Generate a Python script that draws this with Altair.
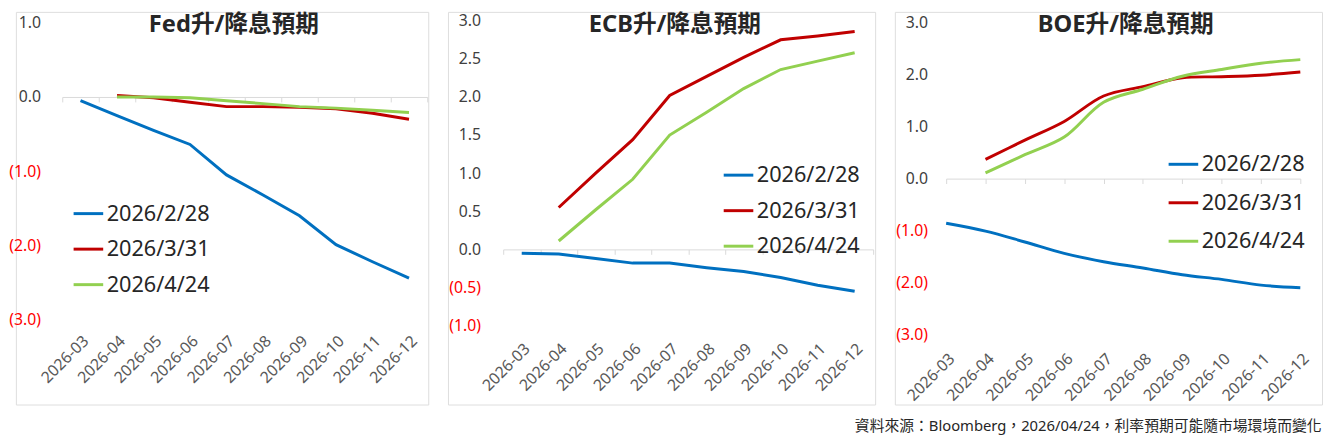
import altair as alt
import pandas as pd

months = ["2026-03", "2026-04", "2026-05", "2026-06", "2026-07",
          "2026-08", "2026-09", "2026-10", "2026-11", "2026-12"]
series_names = ["2026/2/28", "2026/3/31", "2026/4/24"]
series_colors = ["#0070C0", "#C00000", "#92D050"]

fed_feb = [-0.05, -0.25, -0.45, -0.64, -1.05, -1.32, -1.60, -1.99, -2.22, -2.44]
fed_mar = [None, 0.02, -0.01, -0.07, -0.13, -0.13, -0.14, -0.16, -0.22, -0.30]
fed_apr = [None, 0.00, 0.00, -0.01, -0.05, -0.09, -0.13, -0.15, -0.18, -0.21]

ecb_feb = [-0.05, -0.06, -0.12, -0.18, -0.18, -0.24, -0.29, -0.37, -0.47, -0.55]
ecb_mar = [None, 0.55, 1.00, 1.44, 2.02, 2.27, 2.52, 2.75, 2.80, 2.86]
ecb_apr = [None, 0.11, 0.52, 0.92, 1.50, 1.80, 2.11, 2.36, 2.47, 2.58]

boe_feb = [-0.86, -1.01, -1.22, -1.44, -1.60, -1.72, -1.85, -1.94, -2.05, -2.10]
boe_mar = [None, 0.37, 0.74, 1.10, 1.59, 1.77, 1.94, 1.96, 1.99, 2.05]
boe_apr = [None, 0.11, 0.46, 0.80, 1.47, 1.72, 1.97, 2.10, 2.22, 2.29]

fed_ticks = [1.0, 0.0, -1.0, -2.0, -3.0]
ecb_ticks = [3.0, 2.5, 2.0, 1.5, 1.0, 0.5, 0.0, -0.5, -1.0]
boe_ticks = [3.0, 2.0, 1.0, 0.0, -1.0, -2.0, -3.0]

titles = ["Fed升/降息預期", "ECB升/降息預期", "BOE升/降息預期"]
footer = "資料來源：Bloomberg，2026/04/24，利率預期可能隨市場環境而變化"

FONT = "Noto Sans, Noto Sans CJK TC, sans-serif"
H = 398


def make_df(feb, mar, apr):
    rows = []
    for name, vals in zip(series_names, [feb, mar, apr]):
        for m, v in zip(months, vals):
            if v is not None:
                rows.append({"month": m, "series": name, "value": v})
    return pd.DataFrame(rows)


LABEL_EXPR = ("datum.value < 0 ? '(' + format(-datum.value, '.1f') + ')' "
              ": format(datum.value, '.1f') + '\u00a0'")


def panel(title, df, W, ydom, yrange, ticks, xrange, band, ylab_x, xlab_y,
          leg_x, leg_y, leg_pad, title_x, interp):
    y0 = yrange[0] + (0 - ydom[0]) / (ydom[1] - ydom[0]) * (yrange[1] - yrange[0])
    if band:
        xs = alt.Scale(type="band", domain=months, range=xrange,
                       paddingInner=0, paddingOuter=0)
    else:
        xs = alt.Scale(type="point", domain=months, range=xrange, padding=0)
    ys = alt.Scale(domain=ydom, range=yrange, nice=False, zero=False)
    yaxis = alt.Axis(
        orient="left", offset=-ylab_x, values=ticks, labelExpr=LABEL_EXPR,
        labelColor={"condition": {"test": "datum.value < 0", "value": "#FF0000"},
                    "value": "#404040"},
        domain=False, ticks=False, tickSize=0, labelPadding=0, grid=False,
        title=None, labelFontSize=16, labelOverlap=False, labelFont=FONT)
    base = alt.Chart(df)

    lines = base.mark_line(strokeWidth=3, interpolate=interp).encode(
        x=alt.X("month:O", scale=xs, axis=alt.Axis(
            orient="bottom", offset=-(H - xlab_y), labelAngle=-45,
            domain=False, ticks=False, tickSize=0, labelPadding=0,
            title=None, grid=False, labelFontSize=16, labelColor="#595959",
            labelOverlap=False, labelBound=False, labelFont=FONT)),
        y=alt.Y("value:Q", scale=ys, axis=yaxis),
        color=alt.Color("series:N",
                        scale=alt.Scale(domain=series_names, range=series_colors),
                        legend=alt.Legend(
                            orient="none", legendX=leg_x, legendY=leg_y,
                            title=None, symbolType="stroke", symbolSize=900,
                            symbolStrokeWidth=3, labelFontSize=22,
                            labelColor="#262626", labelFont=FONT,
                            rowPadding=leg_pad, labelOffset=2, padding=0)),
    )

    zaxis_kw = dict(orient="bottom", offset=-(H - y0), labels=False,
                    domain=True, domainColor="#D9D9D9", domainWidth=1,
                    ticks=True, tickColor="#D9D9D9", tickSize=5,
                    title=None, grid=False)
    if band:
        zaxis_kw["tickBand"] = "extent"
    zero = base.mark_line(opacity=0).encode(
        x=alt.X("month:O", scale=xs, axis=alt.Axis(**zaxis_kw)),
        y=alt.Y("value:Q", scale=ys, axis=yaxis),
    )

    head = alt.Chart(pd.DataFrame({"t": [title]})).mark_text(
        fontSize=24, fontWeight="bold", color="#262626", font=FONT,
        align="center", baseline="top").encode(
        text="t:N", x=alt.value(title_x), y=alt.value(1))

    return alt.layer(zero, lines, head).resolve_scale(
        x="independent").resolve_axis(x="independent").properties(
        width=W, height=H)


p1 = panel(titles[0], make_df(fed_feb, fed_mar, fed_apr), 418,
           [-3, 1], [312, 11], fed_ticks, [47, 417], True,
           25, 325, 57, 188, 8, 221, "linear")
p2 = panel(titles[1], make_df(ecb_feb, ecb_mar, ecb_apr), 433,
           [-1, 3], [318, 9], ecb_ticks, [56, 431], True,
           33, 333, 278, 149, 8, 230, "linear")
p3 = panel(titles[2], make_df(boe_feb, boe_mar, boe_apr), 433,
           [-3, 3], [327, 11], boe_ticks, [52, 411], False,
           33, 343, 276, 138, 11, 234, "catmull-rom")

chart = alt.hconcat(p1, p2, p3, spacing=18).resolve_scale(
    color="independent").resolve_legend(color="independent").properties(
    padding=0,
    background="white",
    title=alt.TitleParams(text=footer, orient="bottom", anchor="end",
                          fontSize=15, fontWeight="normal", color="#262626",
                          offset=14, baseline="top", dx=-1, font=FONT),
).configure_view(stroke="#D9D9D9", strokeWidth=1).configure(font=FONT)

chart.save("out.html", embed_options={"renderer": "svg", "actions": False})
